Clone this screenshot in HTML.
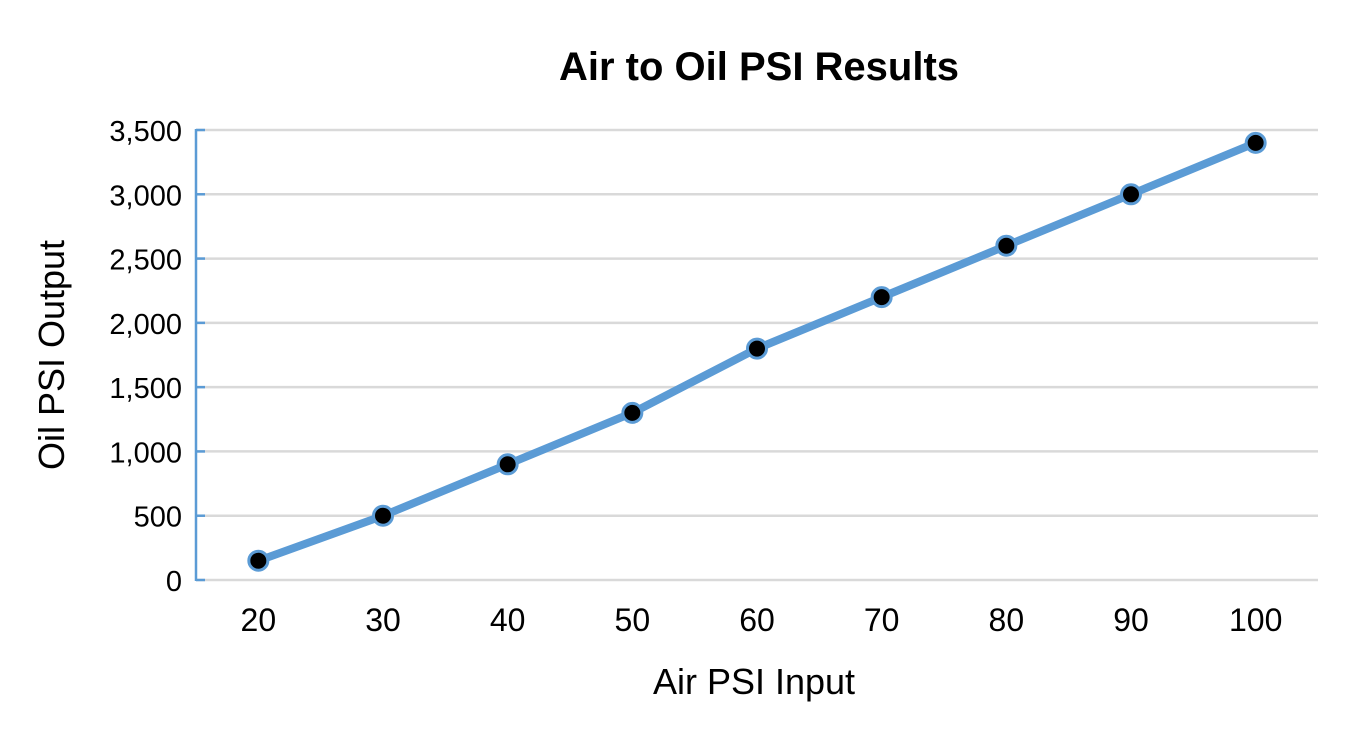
<!DOCTYPE html>
<html><head><meta charset="utf-8"><style>
body{margin:0;background:#fff;}
svg{display:block;font-family:"Liberation Sans",sans-serif;}
</style></head><body>
<svg id="chart" width="1371" height="736" viewBox="0 0 1371 736">
<text x="759" y="80" text-anchor="middle" font-size="40" font-weight="bold" fill="#000">Air to Oil PSI Results</text>
<g id="grid"></g><g id="axes"></g><g id="series"></g>
<text x="754" y="694" text-anchor="middle" font-size="36" fill="#000">Air PSI Input</text>
<text transform="translate(64,355) rotate(-90)" text-anchor="middle" font-size="36" fill="#000">Oil PSI Output</text>
</svg>
<script>
const categories=[20,30,40,50,60,70,80,90,100];
const values=[150,500,900,1300,1800,2200,2600,3000,3400];
const yTicks=[0,500,1000,1500,2000,2500,3000,3500];
const yTickLabels=["0","500","1,000","1,500","2,000","2,500","3,000","3,500"];
const NS="http://www.w3.org/2000/svg";
const L=196,R=1318,T=130,B=580,yMax=3500;
const bw=(R-L)/categories.length;
const xs=i=>L+bw*(i+0.5);
const ys=v=>B-(v/yMax)*(B-T);
function mk(tag,attrs,parent){const e=document.createElementNS(NS,tag);for(const k in attrs)e.setAttribute(k,attrs[k]);parent.appendChild(e);return e;}
const grid=document.getElementById('grid'),axes=document.getElementById('axes'),ser=document.getElementById('series');
yTicks.forEach((t,i)=>{
 const y=ys(t);
 const g=mk('line',{x1:L,x2:R,y1:y,y2:y,stroke:'#d9d9d9','stroke-width':2.5},grid);
 
 
 const tk=mk('line',{x1:L,x2:L+9,y1:y,y2:y,stroke:'#5b9bd5','stroke-width':2.5},axes);
 
 
 const lb=mk('text',{x:182,y:y+11,'text-anchor':'end','font-size':29,fill:'#000'},axes);
 lb.textContent=yTickLabels[i];
 
 
});
const ya=mk('line',{x1:L,x2:L,y1:T-1,y2:B+1,stroke:'#5b9bd5','stroke-width':2.5},axes);


categories.forEach((c,i)=>{
 const lb=mk('text',{x:xs(i),y:631,'text-anchor':'middle','font-size':32,fill:'#000'},axes);
 lb.textContent=c;
 
 
});
const pts=values.map((v,i)=>xs(i)+','+ys(v)).join(' ');
const pl=mk('polyline',{points:pts,fill:'none',stroke:'#5b9bd5','stroke-width':8,'stroke-linejoin':'round','stroke-linecap':'round'},ser);


values.forEach((v,i)=>{
 const c=mk('circle',{cx:xs(i),cy:ys(v),r:9.5,fill:'#000',stroke:'#5b9bd5','stroke-width':3},ser);
 
 
});
</script>
</body></html>
